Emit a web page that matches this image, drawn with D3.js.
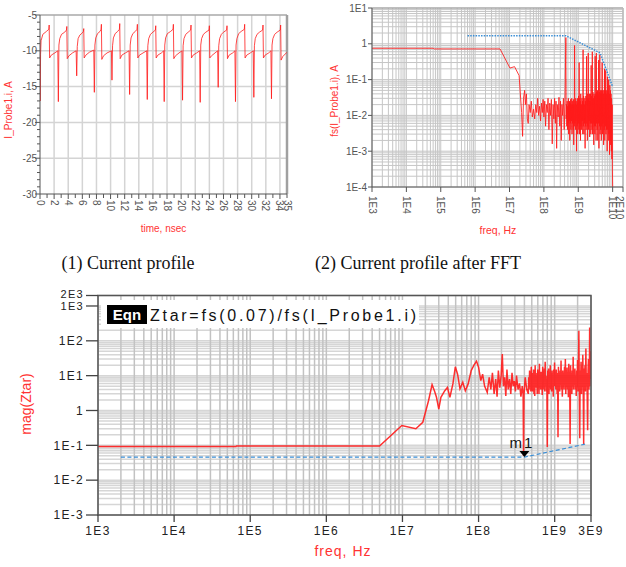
<!DOCTYPE html>
<html>
<head>
<meta charset="utf-8">
<script src="https://cdn.jsdelivr.net/npm/d3@7"></script>
<style>
  body { margin: 0; background: #fff; }
  text { font-family: "Liberation Sans", Arial, sans-serif; }
  text.caption { font-family: "Liberation Serif", "Times New Roman", serif; }
</style>
</head>
<body>
<svg id="fig" width="626" height="567"></svg>
<script>
// ---------- data ----------
// (1) current profile: [time ns, current A]
const currentProfile = [
  [0,-8.4],[0.03,-17.0],[0.08,-10.5],[0.15,-8.6],[0.4,-7.7],[0.9,-7.3],[1.25,-7.0],[1.3,-6.4],[1.36,-11.0],[1.6,-10.6],[2.1,-10.3],[2.52,-10.0],
  [2.6,-17.1],[2.68,-9.2],[2.8,-8.3],[3.05,-7.7],[3.5,-7.4],[3.75,-7.1],[3.8,-6.6],[3.86,-11.1],[4.1,-10.7],[4.6,-10.3],[5.12,-10.0],
  [5.2,-13.5],[5.28,-9.4],[5.4,-8.3],[5.65,-7.8],[6.0,-7.5],[6.15,-7.3],[6.2,-6.9],[6.26,-11.0],[6.5,-10.6],[7.0,-10.2],[7.62,-9.9],
  [7.7,-15.8],[7.78,-9.2],[7.9,-8.2],[8.15,-7.6],[8.5,-7.3],[8.65,-7.0],[8.7,-6.3],[8.76,-11.2],[9.0,-10.7],[9.5,-10.3],[10.12,-10.0],
  [10.2,-14.1],[10.28,-9.3],[10.4,-8.2],[10.65,-7.6],[11.0,-7.3],[11.25,-7.0],[11.3,-6.2],[11.36,-11.1],[11.6,-10.6],[12.1,-10.3],[12.62,-10.0],
  [12.7,-16.1],[12.78,-9.2],[12.9,-8.2],[13.15,-7.6],[13.5,-7.3],[13.75,-7.0],[13.8,-6.3],[13.86,-11.0],[14.1,-10.6],[14.6,-10.3],[15.12,-10.0],
  [15.2,-16.8],[15.28,-9.3],[15.4,-8.3],[15.65,-7.7],[16.0,-7.4],[16.35,-7.1],[16.4,-6.5],[16.46,-11.0],[16.7,-10.6],[17.2,-10.3],[17.52,-10.0],
  [17.6,-17.1],[17.68,-9.2],[17.8,-8.2],[18.05,-7.6],[18.5,-7.3],[18.85,-7.0],[18.9,-6.3],[18.96,-11.1],[19.2,-10.7],[19.7,-10.3],[20.12,-10.0],
  [20.2,-16.9],[20.28,-9.3],[20.4,-8.3],[20.65,-7.7],[21.0,-7.4],[21.35,-7.1],[21.4,-6.4],[21.46,-11.0],[21.7,-10.6],[22.2,-10.3],[22.62,-10.0],
  [22.7,-17.2],[22.78,-9.2],[22.9,-8.3],[23.15,-7.7],[23.5,-7.4],[23.95,-7.1],[24.0,-6.5],[24.06,-11.0],[24.3,-10.7],[24.8,-10.3],[25.17,-10.0],
  [25.25,-15.1],[25.33,-9.3],[25.45,-8.3],[25.7,-7.7],[26.0,-7.4],[26.45,-7.1],[26.5,-6.5],[26.56,-11.1],[26.8,-10.6],[27.3,-10.3],[27.62,-10.0],
  [27.7,-17.1],[27.78,-9.2],[27.9,-8.3],[28.15,-7.6],[28.5,-7.3],[28.95,-7.0],[29.0,-6.3],[29.06,-11.0],[29.3,-10.6],[29.8,-10.3],[30.22,-10.0],
  [30.3,-16.5],[30.38,-9.3],[30.5,-8.3],[30.75,-7.7],[31.1,-7.4],[31.55,-7.1],[31.6,-6.4],[31.66,-11.0],[31.9,-10.6],[32.4,-10.3],[32.72,-10.0],
  [32.8,-16.7],[32.88,-9.2],[33.0,-8.3],[33.25,-7.7],[33.6,-7.4],[34.05,-7.1],[34.1,-6.4],[34.16,-11.3],[34.4,-10.8],[35.0,-10.2]
];
const timeTicks = [0,2,4,6,8,10,12,14,16,18,20,22,24,26,28,30,32,34,35];
const currentTicks = [-5,-10,-15,-20,-25,-30];

// (2) spectrum fs(I_Probe1.i): [freq Hz, A]
const fftSpectrum = [
  [1e3,0.75],[6e4,0.75],[6.5e4,0.72],[5.3e6,0.72],[1.03e7,0.21],[1.4e7,0.23],[1.9e7,0.13],[2.05e7,0.045],[2.25e7,0.012],[2.4e7,0.0026],
  [2.55e7,0.03],[2.75e7,0.05],[2.9e7,0.02],[3.1e7,0.04],[3.3e7,0.008],[3.5e7,0.006],[3.7e7,0.02],[4e7,0.012],[4.3e7,0.025],[4.6e7,0.009],
  [5e7,0.015],[5.4e7,0.008],[5.8e7,0.02],[6.2e7,0.012],[6.6e7,0.03],[7e7,0.01],[7.5e7,0.018],[8e7,0.007],[8.5e7,0.022],[9e7,0.012],
  [9.5e7,0.028],[1e8,0.009],[1.06e8,0.025],[1.12e8,0.005],[1.18e8,0.02],[1.25e8,0.012],[1.32e8,0.03],[1.4e8,0.004],[1.48e8,0.022],[1.56e8,0.01],
  [1.65e8,0.028],[1.75e8,0.0016],[1.85e8,0.02],[1.95e8,0.008],[2.05e8,0.03],[2.15e8,0.006],[2.25e8,0.025],[2.35e8,0.0012],[2.45e8,0.02],[2.6e8,0.009],
  [2.75e8,0.032],[2.9e8,0.005],[3.05e8,0.025],[3.2e8,0.002],[3.35e8,0.02],[3.5e8,0.01],[3.7e8,0.03],[3.9e8,0.004],[4.1e8,0.02],[4.35e8,1.5],
  [4.45e8,0.008],[4.55e8,0.02],[4.65e8,0.005],[4.75e8,0.025],[4.85e8,0.004],[4.95e8,0.018],[5.05e8,0.006],[5.15e8,0.03],[5.25e8,0.003],[5.35e8,0.02],
  [5.45e8,0.007],[5.55e8,0.025],[5.66e8,0.002],[5.77e8,0.022],[5.88e8,0.006],[5.99e8,0.028],[6.1e8,0.004],[6.22e8,0.02],[6.34e8,0.007],[6.46e8,0.03],
  [6.58e8,0.003],[6.71e8,0.025],[6.84e8,0.006],[6.97e8,0.02],[7.1e8,0.004],[7.24e8,0.028],[7.38e8,0.0015],[7.52e8,0.02],[7.66e8,0.005],[7.8e8,0.9],
  [7.95e8,0.006],[8.1e8,0.025],[8.26e8,0.004],[8.42e8,0.03],[8.58e8,0.007],[8.75e8,0.02],[8.92e8,0.001],[9.09e8,0.025],[9.27e8,0.005],[9.45e8,0.03],
  [9.63e8,0.003],[9.82e8,0.022],[1.0e9,0.006],[1.02e9,0.035],[1.04e9,0.004],[1.06e9,0.3],[1.08e9,0.003],[1.1e9,0.03],[1.12e9,0.006],[1.14e9,0.025],
  [1.16e9,0.002],[1.18e9,0.04],[1.2e9,0.005],[1.23e9,0.02],[1.25e9,0.004],[1.28e9,0.03],[1.3e9,0.007],[1.33e9,0.025],[1.35e9,0.003],[1.38e9,0.68],
  [1.4e9,0.005],[1.43e9,0.035],[1.46e9,0.003],[1.49e9,0.02],[1.52e9,0.006],[1.55e9,0.03],[1.58e9,0.0012],[1.61e9,0.025],[1.64e9,0.005],[1.67e9,0.035],
  [1.7e9,0.004],[1.74e9,0.45],[1.77e9,0.006],[1.81e9,0.03],[1.84e9,0.002],[1.88e9,0.04],[1.91e9,0.005],[1.95e9,0.55],[1.99e9,0.004],[2.03e9,0.03],
  [2.07e9,0.007],[2.11e9,0.04],[2.15e9,0.0025],[2.19e9,0.025],[2.23e9,0.006],[2.28e9,0.04],[2.32e9,0.003],[2.37e9,0.25],[2.41e9,0.006],[2.46e9,0.035],
  [2.51e9,0.004],[2.56e9,0.6],[2.61e9,0.003],[2.66e9,0.045],[2.71e9,0.006],[2.76e9,0.03],[2.82e9,0.0015],[2.87e9,0.04],[2.93e9,0.005],[2.98e9,0.035],
  [3.04e9,0.003],[3.1e9,0.45],[3.16e9,0.005],[3.22e9,0.04],[3.29e9,0.002],[3.35e9,0.55],[3.42e9,0.006],[3.48e9,0.045],[3.55e9,0.004],[3.62e9,0.05],
  [3.69e9,0.002],[3.76e9,0.04],[3.84e9,0.006],[3.91e9,0.35],[3.99e9,0.0012],[4.07e9,0.045],[4.15e9,0.005],[4.23e9,0.5],[4.31e9,0.003],[4.4e9,0.05],
  [4.49e9,0.004],[4.58e9,0.04],[4.67e9,0.002],[4.76e9,0.05],[4.85e9,0.005],[4.95e9,0.3],[5.05e9,0.003],[5.15e9,0.05],[5.25e9,0.006],[5.35e9,0.04],
  [5.46e9,0.0015],[5.57e9,0.05],[5.68e9,0.004],[5.79e9,0.2],[5.91e9,0.002],[6.03e9,0.05],[6.15e9,0.005],[6.27e9,0.18],[6.39e9,0.003],[6.52e9,0.05],
  [6.65e9,0.004],[6.78e9,0.04],[6.92e9,0.001],[7.06e9,0.12],[7.2e9,0.004],[7.34e9,0.05],[7.49e9,0.002],[7.64e9,0.1],[7.79e9,0.003],[7.95e9,0.04],
  [8.11e9,0.0008],[8.27e9,0.07],[8.44e9,0.002],[8.61e9,0.05],[8.78e9,0.0015],[8.96e9,0.04],[9.14e9,0.001],[9.32e9,0.03],[9.51e9,0.0006],[9.7e9,0.02],
  [9.85e9,0.0003],[1e10,0.0001]
];
// dotted envelope in (2)
const fftEnvelope = [[6e5,1.67],[4.4e8,1.67],[4.3e9,0.56],[1e10,0.063]];

// (3) mag(Ztar): [freq Hz, ohm]
const ztar = [
  [1e3,0.093],[6.5e4,0.093],[6.6e4,0.096],[5e6,0.096],[9.8e6,0.37],[1.5e7,0.30],[1.85e7,0.46],[2.2e7,1.9],[2.45e7,5.5],[2.65e7,3.5],
  [2.8e7,2.4],[3.0e7,1.1],[3.2e7,2.4],[3.6e7,3.7],[3.9e7,4.6],[4.2e7,2.4],[4.6e7,5.8],[4.95e7,18],[5.3e7,11],[5.7e7,4.2],
  [6.2e7,6.5],[6.7e7,3.7],[7.3e7,5.8],[8e7,14],[8.7e7,20],[9.4e7,26],[1.0e8,17.5],[1.07e8,7.2],[1.13e8,11],[1.2e8,5],
  [1.3e8,3.3],[1.38e8,9],[1.45e8,4],[1.52e8,12],[1.6e8,3],[1.68e8,8],[1.75e8,2.5],[1.82e8,14],[1.9e8,4.5],[1.98e8,10],
  [2.05e8,42],[2.12e8,5],[2.2e8,9],[2.28e8,2.6],[2.36e8,15],[2.45e8,4],[2.55e8,8],[2.65e8,3],[2.75e8,12],[2.85e8,5],
  [2.95e8,7],[3.05e8,3.5],[3.15e8,10],[3.3e8,4],[3.45e8,6],[3.6e8,2.5],[3.75e8,5],[3.85e8,3],[3.9e8,0.05],[3.95e8,2.8],
  [4.1e8,9],[4.3e8,4],
  [4.50e8,3],[4.56e8,9],[4.62e8,4],[4.68e8,14],[4.74e8,5],[4.80e8,11],[4.86e8,3.5],[4.92e8,18],[4.98e8,6],[5.04e8,12],
  [5.10e8,3.5],[5.16e8,10],[5.22e8,4.5],[5.28e8,15],[5.34e8,3],[5.40e8,8],[5.47e8,2.6],[5.54e8,20],[5.61e8,5],[5.68e8,12],
  [5.75e8,4.5],[5.82e8,9],[5.90e8,3],[5.98e8,15],[6.06e8,6],[6.14e8,11],[6.22e8,3],[6.30e8,22],[6.38e8,5],[6.46e8,10],
  [6.54e8,4],[6.62e8,13],[6.70e8,6],[6.78e8,9],[6.86e8,2.8],[6.95e8,18],[7.04e8,5],[7.13e8,12],[7.22e8,4],[7.31e8,16],
  [7.40e8,3.5],[7.50e8,25],[7.60e8,6],[7.70e8,10],[7.80e8,3.5],[7.90e8,8],[8.00e8,0.09],[8.10e8,14],[8.20e8,5],[8.31e8,16],
  [8.42e8,3],[8.53e8,11],[8.64e8,5],[8.75e8,20],[8.86e8,4],[8.98e8,12],[9.10e8,3.5],[9.22e8,14],[9.34e8,6],[9.46e8,9],
  [9.58e8,2.5],[9.70e8,15],[9.83e8,5],[9.96e8,24],[1.009e9,5],[1.022e9,11],[1.036e9,4],[1.050e9,15],[1.064e9,6],[1.078e9,3],
  [1.092e9,12],[1.106e9,0.17],[1.120e9,18],[1.135e9,5],[1.150e9,10],[1.165e9,3.5],[1.180e9,14],[1.196e9,6],[1.212e9,27],[1.228e9,4],
  [1.244e9,9],[1.260e9,2.5],[1.277e9,14],[1.294e9,5],[1.311e9,11],[1.328e9,4],[1.345e9,18],[1.363e9,6],[1.381e9,30],[1.399e9,3],
  [1.417e9,12],[1.436e9,5],[1.455e9,17],[1.474e9,4],[1.493e9,9],[1.513e9,2.4],[1.533e9,22],[1.553e9,6],[1.574e9,12],[1.595e9,0.11],
  [1.616e9,20],[1.637e9,5],[1.659e9,10],[1.681e9,3],[1.703e9,14],[1.726e9,5],[1.749e9,35],[1.772e9,4],[1.796e9,12],[1.820e9,6],
  [1.844e9,16],[1.869e9,4],[1.894e9,9],[1.919e9,2.6],[1.945e9,14],[1.971e9,5],[1.997e9,28],[2.024e9,3.5],[2.051e9,12],[2.078e9,195],
  [2.106e9,5],[2.134e9,0.16],[2.162e9,14],[2.191e9,6],[2.220e9,25],[2.250e9,3],[2.280e9,11],[2.310e9,5],[2.341e9,40],[2.372e9,4],
  [2.404e9,0.11],[2.436e9,16],[2.469e9,5],[2.502e9,20],[2.535e9,3.5],[2.569e9,60],[2.603e9,5],[2.638e9,12],[2.673e9,2.8],[2.709e9,0.27],
  [2.745e9,14],[2.782e9,30],[2.819e9,4],[2.857e9,12],[2.880e9,240],[2.900e9,5],[2.930e9,18],[2.960e9,50],[3e9,8]
];
// dashed target line and marker m1 in (3)
const ztarTarget = [[2e3,0.046],[4e8,0.046],[2.6e9,0.11]];
const markerM1 = [4e8,0.046];

// ---------- drawing ----------
const svg = d3.select("#fig");
const red = "#ff1a1a", blue = "#3a8ed6";

function logLabel(v) {
  const e = Math.floor(Math.log10(v) + 1e-9);
  const m = Math.round(v / Math.pow(10, e));
  if (m === 1 && e === 0) return "1";
  return m + "E" + e;
}
function isDecade(v) { return Math.abs(Math.log10(v) - Math.round(Math.log10(v))) < 1e-9; }

// ===== panel 1 =====
const x1 = d3.scaleLinear().domain([0, 35]).range([40, 287]);
const y1 = d3.scaleLinear().domain([-30, -5]).range([194, 15]);
const p1 = svg.append("g");

p1.selectAll(".g1v").data(d3.range(2, 35, 2)).join("line")
  .attr("x1", d => x1(d)).attr("x2", d => x1(d)).attr("y1", y1(-5)).attr("y2", y1(-30))
  .attr("stroke", "#d4d4d4").attr("stroke-width", 1.5);
p1.selectAll(".g1h").data([-10, -15, -20, -25]).join("line")
  .attr("x1", x1(0)).attr("x2", x1(35)).attr("y1", d => y1(d)).attr("y2", d => y1(d))
  .attr("stroke", "#d4d4d4").attr("stroke-width", 1.5);
// frame
p1.append("line").attr("x1", x1(0)).attr("x2", x1(35)).attr("y1", y1(-5)).attr("y2", y1(-5)).attr("stroke", "#a8a8a8").attr("stroke-width", 1.5);
p1.append("line").attr("x1", x1(35)).attr("x2", x1(35)).attr("y1", y1(-5)).attr("y2", y1(-30)).attr("stroke", "#a0a0a0").attr("stroke-width", 2.5);

p1.append("clipPath").attr("id", "c1").append("rect")
  .attr("x", x1(0)).attr("y", y1(-5)).attr("width", x1(35) - x1(0)).attr("height", y1(-30) - y1(-5));
p1.append("path").datum(currentProfile)
  .attr("clip-path", "url(#c1)")
  .attr("d", d3.line().x(d => x1(d[0])).y(d => y1(d[1])))
  .attr("fill", "none").attr("stroke", red).attr("stroke-opacity", 0.8).attr("stroke-width", 1);

// axes
p1.append("line").attr("x1", x1(0)).attr("x2", x1(0)).attr("y1", y1(-5)).attr("y2", y1(-30)).attr("stroke", "#555");
p1.append("line").attr("x1", x1(0)).attr("x2", x1(35)).attr("y1", y1(-30)).attr("y2", y1(-30)).attr("stroke", "#555");
p1.selectAll(".t1y").data(y1.ticks(25)).join("line")
  .attr("x1", d => x1(0) - (d % 5 === 0 ? 5 : 3)).attr("x2", x1(0))
  .attr("y1", d => y1(d)).attr("y2", d => y1(d)).attr("stroke", "#555");
p1.selectAll(".t1x").data(x1.ticks(35)).join("line")
  .attr("x1", d => x1(d)).attr("x2", d => x1(d))
  .attr("y1", y1(-30)).attr("y2", d => y1(-30) + (d % 2 === 0 ? 5 : 4)).attr("stroke", "#555");
p1.selectAll(".l1y").data(currentTicks).join("text")
  .attr("x", x1(0) - 3).attr("y", d => y1(d)).attr("dy", "0.35em")
  .attr("text-anchor", "end").attr("font-size", 10).attr("fill", "#555").text(d => d);
p1.selectAll(".l1x").data(timeTicks).join("text")
  .attr("transform", d => `translate(${x1(d)},${y1(-30) + 6}) rotate(90)`)
  .attr("dy", "0.35em").attr("font-size", 10).attr("fill", "#555").text(d => d);
p1.append("text").attr("x", (x1(0) + x1(35)) / 2).attr("y", 232).attr("text-anchor", "middle")
  .attr("font-size", 10).attr("fill", "#ff3333").text("time, nsec");
p1.append("text").attr("transform", "translate(12,110) rotate(-90)").attr("text-anchor", "middle")
  .attr("font-size", 10).attr("fill", "#ff3333").text("I_Probe1.i, A");

// ===== panel 2 =====
const x2 = d3.scaleLog().domain([1e3, 2e10]).range([372, 623]);
const y2 = d3.scaleLog().domain([1e-4, 10]).range([187, 8]);
const p2 = svg.append("g");

p2.selectAll(".g2v").data(x2.ticks()).join("line")
  .attr("x1", d => x2(d)).attr("x2", d => x2(d)).attr("y1", y2(10)).attr("y2", y2(1e-4))
  .attr("stroke", "#c6c6c6").attr("stroke-width", 1);
p2.selectAll(".g2h").data(y2.ticks()).join("line")
  .attr("x1", x2(1e3)).attr("x2", x2(2e10)).attr("y1", d => y2(d)).attr("y2", d => y2(d))
  .attr("stroke", "#c6c6c6").attr("stroke-width", 1);
p2.append("line").attr("x1", x2(1e3)).attr("x2", x2(2e10)).attr("y1", y2(10)).attr("y2", y2(10)).attr("stroke", "#999");
p2.append("line").attr("x1", x2(2e10)).attr("x2", x2(2e10)).attr("y1", y2(10)).attr("y2", y2(1e-4)).attr("stroke", "#bbb").attr("stroke-width", 1.5);

p2.append("clipPath").attr("id", "c2").append("rect")
  .attr("x", x2(1e3)).attr("y", y2(10)).attr("width", x2(2e10) - x2(1e3)).attr("height", y2(1e-4) - y2(10));
p2.append("path").datum(fftSpectrum)
  .attr("clip-path", "url(#c2)")
  .attr("d", d3.line().x(d => x2(d[0])).y(d => y2(d[1])))
  .attr("fill", "none").attr("stroke", red).attr("stroke-opacity", 0.85).attr("stroke-width", 1);
p2.append("path").datum(fftEnvelope)
  .attr("d", d3.line().x(d => x2(d[0])).y(d => y2(d[1])))
  .attr("fill", "none").attr("stroke", blue).attr("stroke-width", 1.5).attr("stroke-dasharray", "1.5,1.2");

p2.append("line").attr("x1", x2(1e3)).attr("x2", x2(1e3)).attr("y1", y2(10)).attr("y2", y2(1e-4)).attr("stroke", "#555");
p2.append("line").attr("x1", x2(1e3)).attr("x2", x2(2e10)).attr("y1", y2(1e-4)).attr("y2", y2(1e-4)).attr("stroke", "#555");
const y2Labels = y2.ticks().filter(isDecade);
p2.selectAll(".t2y").data(y2Labels).join("line")
  .attr("x1", x2(1e3) - 4).attr("x2", x2(1e3)).attr("y1", d => y2(d)).attr("y2", d => y2(d)).attr("stroke", "#555");
p2.selectAll(".l2y").data(y2Labels).join("text")
  .attr("x", x2(1e3) - 5).attr("y", d => y2(d)).attr("dy", "0.35em")
  .attr("text-anchor", "end").attr("font-size", 10).attr("fill", "#555").text(logLabel);
const x2Labels = x2.ticks().filter(isDecade).concat([2e10]);
p2.selectAll(".t2x").data(x2Labels).join("line")
  .attr("x1", d => x2(d)).attr("x2", d => x2(d)).attr("y1", y2(1e-4)).attr("y2", y2(1e-4) + 5).attr("stroke", "#555");
p2.selectAll(".l2x").data(x2Labels).join("text")
  .attr("transform", d => `translate(${Math.min(x2(d), 619)},${y2(1e-4) + 9}) rotate(90)`)
  .attr("dy", "0.35em").attr("font-size", 10).attr("fill", "#555").text(logLabel);
p2.append("text").attr("x", 498).attr("y", 234).attr("text-anchor", "middle")
  .attr("font-size", 10.5).attr("fill", "#ff3333").text("freq, Hz");
p2.append("text").attr("transform", "translate(338,101) rotate(-90)").attr("text-anchor", "middle")
  .attr("font-size", 10).attr("fill", "#ff3333").text("fs(I_Probe1.i), A");

// captions
svg.append("text").attr("class", "caption").attr("x", 128).attr("y", 269).attr("text-anchor", "middle")
  .attr("font-size", 18).attr("fill", "#111").text("(1) Current profile");
svg.append("text").attr("class", "caption").attr("x", 418).attr("y", 269).attr("text-anchor", "middle")
  .attr("font-size", 18).attr("fill", "#111").text("(2) Current profile after FFT");

// ===== panel 3 =====
const x3 = d3.scaleLog().domain([1e3, 3e9]).range([98, 591]);
const y3 = d3.scaleLog().domain([1e-3, 2e3]).range([515, 295.5]);
const p3 = svg.append("g");

p3.selectAll(".g3h").data(y3.ticks()).join("line")
  .attr("x1", x3(1e3)).attr("x2", x3(3e9)).attr("y1", d => y3(d)).attr("y2", d => y3(d))
  .attr("stroke", "#d6d6d6").attr("stroke-width", 1.5);
p3.selectAll(".g3v").data(x3.ticks()).join("line")
  .attr("x1", d => x3(d)).attr("x2", d => x3(d)).attr("y1", y3(2e3)).attr("y2", y3(1e-3))
  .attr("stroke", "#c2c2c2").attr("stroke-width", 1.5);

// equation box
p3.append("rect").attr("x", 101).attr("y", 300).attr("width", 318).attr("height", 28).attr("fill", "#fff");
p3.append("rect").attr("x", 107).attr("y", 305).attr("width", 40).attr("height", 19).attr("fill", "#000");
p3.append("text").attr("x", 127).attr("y", 320).attr("text-anchor", "middle")
  .attr("font-size", 15).attr("font-weight", "bold").attr("fill", "#fff").text("Eqn");
p3.append("text").attr("x", 150).attr("y", 321)
  .attr("font-size", 16).attr("fill", "#111")
  .attr("textLength", 266).attr("lengthAdjust", "spacing")
  .text("Ztar=fs(0.07)/fs(I_Probe1.i)");

p3.append("clipPath").attr("id", "c3").append("rect")
  .attr("x", x3(1e3)).attr("y", y3(2e3)).attr("width", x3(3e9) - x3(1e3)).attr("height", y3(1e-3) - y3(2e3));
p3.append("path").datum(ztar)
  .attr("clip-path", "url(#c3)")
  .attr("d", d3.line().x(d => x3(d[0])).y(d => y3(d[1])))
  .attr("fill", "none").attr("stroke", red).attr("stroke-opacity", 0.9).attr("stroke-width", 1.5);
p3.append("path").datum(ztarTarget)
  .attr("d", d3.line().x(d => x3(d[0])).y(d => y3(d[1])))
  .attr("fill", "none").attr("stroke", blue).attr("stroke-width", 1.2).attr("stroke-dasharray", "4,2.5");

// marker m1
const mx = x3(markerM1[0]), my = y3(markerM1[1]);
p3.append("path").attr("d", `M${mx - 5},${my - 6}L${mx + 5},${my - 6}L${mx},${my}Z`).attr("fill", "#000");
p3.append("text").attr("x", mx - 15).attr("y", my - 9).attr("font-size", 15).attr("letter-spacing", 2)
  .attr("fill", "#111").text("m1");

// frame and axes
p3.append("rect").attr("x", x3(1e3)).attr("y", y3(2e3)).attr("width", x3(3e9) - x3(1e3)).attr("height", y3(1e-3) - y3(2e3))
  .attr("fill", "none").attr("stroke", "#555").attr("stroke-width", 1.5);
const y3Labels = y3.ticks().filter(isDecade).concat([2e3]);
p3.selectAll(".t3y").data(y3Labels).join("line")
  .attr("x1", x3(1e3) - 12).attr("x2", x3(1e3)).attr("y1", d => y3(d)).attr("y2", d => y3(d))
  .attr("stroke", "#444").attr("stroke-width", 1.3);
p3.selectAll(".l3y").data(y3Labels).join("text")
  .attr("x", x3(1e3) - 14).attr("y", d => y3(d) - (d === 2e3 ? 1.5 : 0)).attr("dy", "0.36em")
  .attr("text-anchor", "end").attr("font-size", d => d >= 1e3 ? 11 : 12).attr("letter-spacing", 1.3)
  .attr("fill", "#222").text(logLabel);
const x3Labels = x3.ticks().filter(isDecade).concat([3e9]);
p3.selectAll(".t3x").data(x3Labels).join("line")
  .attr("x1", d => x3(d)).attr("x2", d => x3(d)).attr("y1", y3(1e-3)).attr("y2", y3(1e-3) + 7)
  .attr("stroke", "#444").attr("stroke-width", 1.3);
p3.selectAll(".l3x").data(x3Labels).join("text")
  .attr("x", d => x3(d)).attr("y", 535).attr("text-anchor", "middle")
  .attr("font-size", 12).attr("letter-spacing", 1.3).attr("fill", "#222").text(logLabel);
p3.append("text").attr("x", 343).attr("y", 556).attr("text-anchor", "middle")
  .attr("font-size", 14).attr("letter-spacing", 1).attr("fill", "#ff3333").text("freq, Hz");
p3.append("text").attr("transform", "translate(31,404) rotate(-90)").attr("text-anchor", "middle")
  .attr("font-size", 14).attr("fill", "#ff3333").text("mag(Ztar)");
</script>
</body>
</html>
